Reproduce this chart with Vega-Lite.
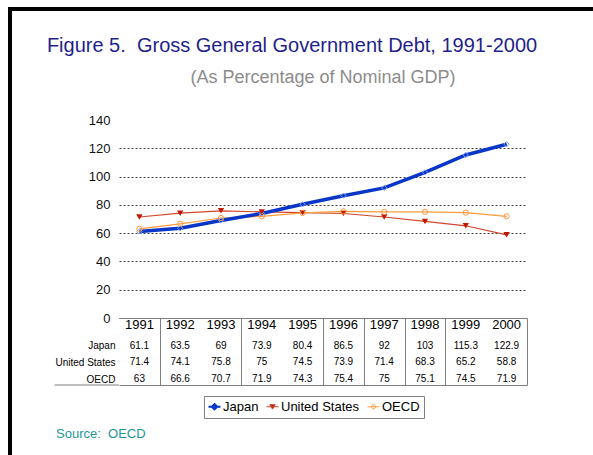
{
  "$schema": "https://vega.github.io/schema/vega-lite/v6.json",
  "padding": {"left": 8, "top": 7, "right": 0, "bottom": 0},
  "background": "white",
  "config": {
    "font": "Liberation Sans",
    "view": {"stroke": null},
    "title": {"font": "Liberation Sans", "fontWeight": "normal"}
  },
  "datasets": {
    "debt": [
      {"country": "Japan", "year": 1991, "value": 61.1},
      {"country": "Japan", "year": 1992, "value": 63.5},
      {"country": "Japan", "year": 1993, "value": 69},
      {"country": "Japan", "year": 1994, "value": 73.9},
      {"country": "Japan", "year": 1995, "value": 80.4},
      {"country": "Japan", "year": 1996, "value": 86.5},
      {"country": "Japan", "year": 1997, "value": 92},
      {"country": "Japan", "year": 1998, "value": 103},
      {"country": "Japan", "year": 1999, "value": 115.3},
      {"country": "Japan", "year": 2000, "value": 122.9},
      {"country": "United States", "year": 1991, "value": 71.4},
      {"country": "United States", "year": 1992, "value": 74.1},
      {"country": "United States", "year": 1993, "value": 75.8},
      {"country": "United States", "year": 1994, "value": 75},
      {"country": "United States", "year": 1995, "value": 74.5},
      {"country": "United States", "year": 1996, "value": 73.9},
      {"country": "United States", "year": 1997, "value": 71.4},
      {"country": "United States", "year": 1998, "value": 68.3},
      {"country": "United States", "year": 1999, "value": 65.2},
      {"country": "United States", "year": 2000, "value": 58.8},
      {"country": "OECD", "year": 1991, "value": 63},
      {"country": "OECD", "year": 1992, "value": 66.6},
      {"country": "OECD", "year": 1993, "value": 70.7},
      {"country": "OECD", "year": 1994, "value": 71.9},
      {"country": "OECD", "year": 1995, "value": 74.3},
      {"country": "OECD", "year": 1996, "value": 75.4},
      {"country": "OECD", "year": 1997, "value": 75},
      {"country": "OECD", "year": 1998, "value": 75.1},
      {"country": "OECD", "year": 1999, "value": 74.5},
      {"country": "OECD", "year": 2000, "value": 71.9}
    ]
  },
  "bounds": "flush",
  "spacing": 0,
  "vconcat": [
    {
      "width": 585,
      "height": 4,
      "view": {"fill": "black", "stroke": null},
      "title": {
        "text": "Figure 5.\u00a0 Gross General Government Debt, 1991-2000",
        "orient": "bottom",
        "anchor": "middle",
        "offset": 25,
        "dx": -8.5,
        "fontSize": 20,
        "color": "#1F1F8C",
        "baseline": "top"
      },
      "data": {"values": []},
      "mark": "rule",
      "encoding": {}
    },
    {
      "bounds": "flush",
      "spacing": 107,
      "hconcat": [
        {
          "width": 4,
          "height": 444,
          "view": {"fill": "black", "stroke": null},
          "data": {"values": []},
          "mark": "rule",
          "encoding": {}
        },
        {
          "bounds": "flush",
          "spacing": 0,
          "vconcat": [
            {
              "width": 10,
              "height": 109,
              "data": {"values": []},
              "mark": "rule",
              "encoding": {}
            },
            {
              "width": 408,
              "height": 198,
              "data": {"name": "debt"},
              "title": {
                "text": "(As Percentage of Nominal GDP)",
                "fontSize": 18,
                "color": "#8C8C8C",
                "anchor": "middle",
                "offset": 9,
                "baseline": "bottom"
              },
              "encoding": {
                "x": {
                  "field": "year", "type": "quantitative",
                  "scale": {"domain": [1990.5, 2000.5], "nice": false, "zero": false},
                  "axis": {"title": null, "labels": false, "ticks": false, "grid": false, "domainColor": "#808080", "domainWidth": 1}
                },
                "y": {
                  "field": "value", "type": "quantitative",
                  "scale": {"domain": [0, 140], "nice": false},
                  "axis": {
                    "title": null,
                    "values": [0, 20, 40, 60, 80, 100, 120, 140],
                    "tickCount": 20,
                    "labelOverlap": false,
                    "domain": false,
                    "ticks": false,
                    "labelFontSize": 13,
                    "labelColor": "#111111",
                    "labelPadding": 9,
                    "grid": true,
                    "gridDash": [2, 2],
                    "gridColor": "#404040",
                    "gridOpacity": {"condition": {"test": "datum.value === 140", "value": 0}, "value": 1}
                  }
                }
              },
              "layer": [
                {
                  "mark": {"type": "line", "strokeWidth": 1.2},
                  "encoding": {
                    "color": {
                      "field": "country", "type": "nominal",
                      "scale": {"domain": ["Japan", "United States", "OECD"], "range": ["#0836C9", "#D2462D", "#FF9A3C"]},
                      "legend": {
                        "orient": "none",
                        "legendX": 196,
                        "legendY": 389,
                        "direction": "horizontal",
                        "title": null,
                        "strokeColor": "#808080",
                        "fillColor": "white",
                        "padding": 4,
                        "labelFontSize": 13,
                        "labelFont": "Liberation Sans",
                        "labelColor": "#000000",
                        "symbolSize": 144,
                        "columnPadding": 5,
                        "labelOffset": 2,
                        "encode": {
                          "symbols": {
                            "update": {
                              "shape": {"signal": "datum.value === 'Japan' ? 'M-1,0H1M0,-0.45L0.45,0L0,0.45L-0.45,0Z' : datum.value === 'United States' ? 'M-1,0H1M-0.45,-0.35H0.45L0,0.4Z' : 'M-1,0H1M0.35,0A0.35,0.35,0,1,1,-0.35,0A0.35,0.35,0,1,1,0.35,0'"},
                              "fill": {"signal": "datum.value === 'United States' ? '#C01800' : 'transparent'"},
                              "strokeWidth": {"signal": "datum.value === 'Japan' ? 2 : 1"}
                            }
                          }
                        }
                      }
                    }
                  }
                },
                {
                  "transform": [{"filter": "datum.country === 'Japan'"}],
                  "mark": {"type": "line", "strokeWidth": 3.5, "color": "#0836C9"}
                },
                {
                  "transform": [{"filter": "datum.country === 'Japan'"}],
                  "mark": {"type": "point", "shape": "diamond", "filled": false, "stroke": "#7A9CF0", "strokeWidth": 1, "size": 28, "opacity": 1}
                },
                {
                  "transform": [{"filter": "datum.country === 'United States'"}],
                  "mark": {"type": "point", "shape": "triangle-down", "filled": true, "color": "#C01800", "size": 40, "opacity": 1}
                },
                {
                  "transform": [{"filter": "datum.country === 'OECD'"}],
                  "mark": {"type": "point", "shape": "circle", "filled": false, "stroke": "#FF9A3C", "strokeWidth": 1, "size": 28, "opacity": 1}
                },
                {
                  "data": {"values": [{}]},
                  "mark": {"type": "rule", "color": "#808080", "strokeWidth": 1},
                  "encoding": {
                    "x": {"datum": 2000.5, "type": "quantitative"},
                    "y": {"value": 0},
                    "y2": {"value": "height"}
                  }
                }
              ]
            },
            {
              "width": 408,
              "height": 67,
              "data": {"name": "debt"},
              "title": {
                "text": "Source:\u00a0 OECD",
                "orient": "bottom",
                "anchor": "start",
                "frame": "bounds",
                "offset": 42,
                "dx": 2,
                "fontSize": 13,
                "color": "#1E9696",
                "baseline": "top"
              },
              "layer": [
                {
                  "mark": {"type": "text", "fontSize": 10, "color": "#000000", "dy": 2.5},
                  "encoding": {
                    "x": {
                      "field": "year", "type": "quantitative",
                      "scale": {"domain": [1990.5, 2000.5], "nice": false, "zero": false},
                      "axis": {
                        "orient": "bottom", "title": null, "labels": false, "ticks": false,
                        "domainColor": "#808080",
                        "grid": true,
                        "values": [1991.5, 1993.5, 1995.5, 1996.5, 1997.5, 1998.5, 2000.5],
                        "tickCount": 20,
                        "gridColor": "#808080",
                        "gridOpacity": 1,
                        "gridDash": []
                      }
                    },
                    "y": {
                      "field": "country", "type": "nominal",
                      "scale": {"domain": ["Year", "Japan", "United States", "OECD"], "paddingInner": 0, "paddingOuter": 0},
                      "axis": {
                        "title": null, "domain": false, "ticks": false,
                        "labelFontSize": 10, "labelColor": "#000000", "labelPadding": 4,
                        "labelOffset": 2.5,
                        "labelExpr": "datum.value === 'Year' ? '' : datum.value"
                      }
                    },
                    "text": {"field": "value", "type": "nominal"}
                  }
                },
                {
                  "transform": [{"filter": "datum.country === 'Japan'"}],
                  "mark": {"type": "text", "fontSize": 13, "color": "#000000", "dy": -1},
                  "encoding": {
                    "x": {"field": "year", "type": "quantitative"},
                    "y": {"datum": "Year", "type": "nominal"},
                    "text": {"field": "year", "type": "nominal"}
                  }
                },
                {
                  "data": {"values": [{}]},
                  "mark": {"type": "rule", "color": "#808080", "strokeWidth": 1},
                  "encoding": {
                    "x": {"datum": 1988.92, "type": "quantitative"},
                    "x2": {"datum": 1990.5},
                    "y": {"value": "height"}
                  }
                }
              ]
            }
          ]
        }
      ]
    }
  ]
}
